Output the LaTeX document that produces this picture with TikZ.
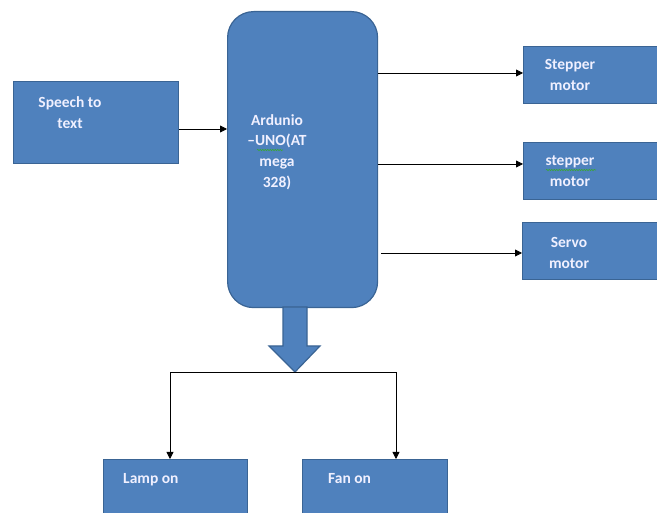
\documentclass[tikz,border=0pt]{standalone}
\usepackage{fontspec}
\setmainfont{Carlito}
\usetikzlibrary{arrows.meta,decorations.pathmorphing}
\definecolor{boxfill}{HTML}{4F81BD}
\definecolor{boxline}{HTML}{3A6494}
\definecolor{squig}{HTML}{3AA53A}
\tikzset{
  blk/.style={draw=boxline, line width=1.2pt, fill=boxfill, inner sep=0pt},
  lbl/.style={text=white!94!blue, font=\fontsize{15.5}{18}\selectfont\bfseries, inner sep=0pt, anchor=base},
  arr/.style={-{Triangle[length=7pt,width=7pt]}, line width=0.8pt, black},
  wavy/.style={draw=squig, line width=0.6pt, decorate, decoration={snake, amplitude=0.7pt, segment length=2.5pt}}
}
\begin{document}
\begin{tikzpicture}[x=1pt,y=-1pt]
\useasboundingbox (0,0) rectangle (657,513);
% boxes
\node[blk, minimum width=165pt, minimum height=82pt, anchor=north west] (speech) at (13,81) {};
\node[blk, rounded corners=26pt, minimum width=150pt, minimum height=296pt, anchor=north west] (ard) at (227,11) {};
\node[blk, minimum width=140pt, minimum height=57pt, anchor=north west] (s1) at (523,46) {};
\node[blk, minimum width=140pt, minimum height=57pt, anchor=north west] (s2) at (523,142) {};
\node[blk, minimum width=140pt, minimum height=57pt, anchor=north west] (sv) at (522,222) {};
\node[blk, minimum width=144pt, minimum height=70pt, anchor=north west] (lamp) at (103,459) {};
\node[blk, minimum width=145pt, minimum height=70pt, anchor=north west] (fan) at (302,459) {};
% block arrow
\draw[blk, line width=1.2pt] (283,307) -- (307,307) -- (307,346) -- (320,346) -- (295,372) -- (269,346) -- (283,346) -- cycle;
\coordinate (tip) at (295,372);
\coordinate (lampin) at (170,459);
\coordinate (fanin) at (396,459);
% texts
\node[lbl] (t1) at (70,108) {Speech to};
\node[lbl] (t2) at (70,129) {text};
\node[lbl] (a1) at (277,126) {Ardunio};
\node[lbl] (a2) at (277,146) {–UNO(AT};
\node[lbl] (a3) at (277,167) {mega};
\node[lbl] (a4) at (277,188) {328)};
\node[lbl] (m1) at (570,70) {Stepper};
\node[lbl] (m2) at (570,91) {motor};
\node[lbl] (m3) at (570,166) {stepper};
\node[lbl] (m4) at (570,187) {motor};
\node[lbl] (m5) at (569,248) {Servo};
\node[lbl] (m6) at (569,269) {motor};
\node[lbl, anchor=base west] (l1) at (123,484) {Lamp on};
\node[lbl, anchor=base west] (f1) at (328,484) {Fan on};
% spell-check squiggles
\path[wavy] (257,150) -- (283,150);
\path[wavy] (546,170) -- (596,170);
% connectors
\draw[arr] (speech.east |- 0,129) -- (ard.west |- 0,129);
\draw[arr] (ard.east |- 0,73) -- (s1.west |- 0,73);
\draw[arr] (ard.east |- 0,164) -- (s2.west |- 0,164);
\draw[arr] ([xshift=3pt]ard.east |- 0,253) -- (sv.west |- 0,253);
\draw[arr] (tip) -| (lampin);
\draw[arr] (tip) -| (fanin);
\end{tikzpicture}
\end{document}
